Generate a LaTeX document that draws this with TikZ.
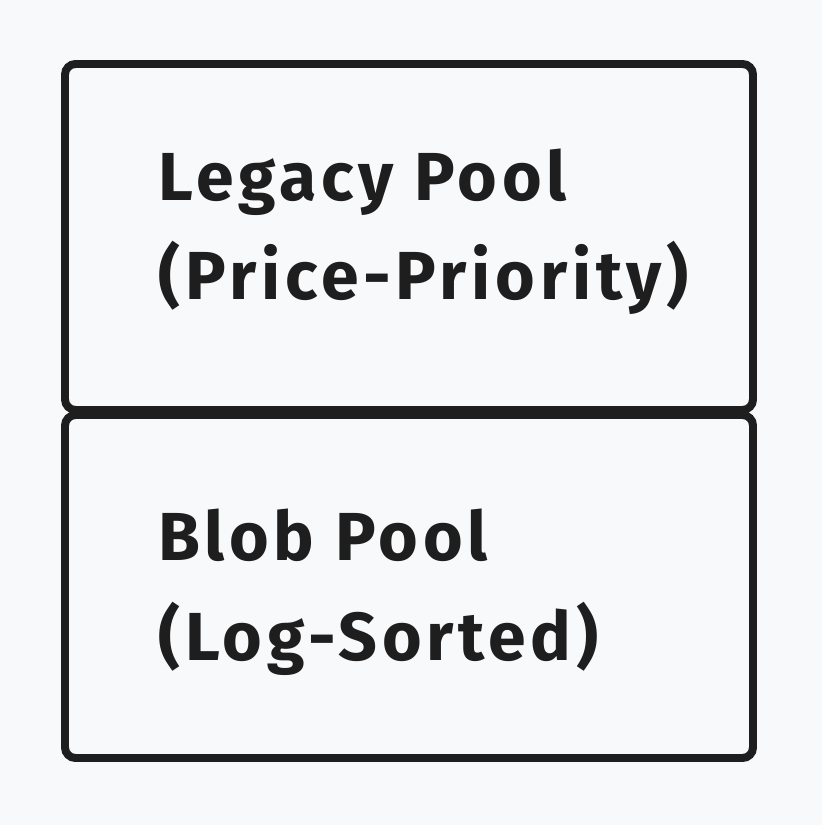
\documentclass[tikz,border=0pt]{standalone}
\usepackage{fontspec}
\setmainfont{Fira Sans}
\usepackage{tikz}
\definecolor{paper}{HTML}{F8F9FB}
\definecolor{ink}{HTML}{1E1E1E}

\begin{document}
\begin{tikzpicture}[x=0.03cm,y=-0.03cm,
    pool/.style={draw=ink,line width=6.8pt,rounded corners=9pt},
    label/.style={text=ink,anchor=base west,align=left,inner sep=0pt,
      font=\fontsize{58}{85}\selectfont\bfseries\addfontfeature{LetterSpace=7}}]
                      \fill[paper](0,0) rectangle (822,825);
                      \useasboundingbox (0,0) rectangle (822,825);
                      \draw[pool](65,64) rectangle (753,410);
                      \draw[pool](65,415) rectangle (753,758);
                      % base anchor sits on the last line
                      \node[label] (legacy) at (158,300) {Legacy Pool\\(Price-Priority)};
                      \node[label] (blob) at (158,660) {Blob Pool\\(Log-Sorted)};
                  \end{tikzpicture}
\end{document}
